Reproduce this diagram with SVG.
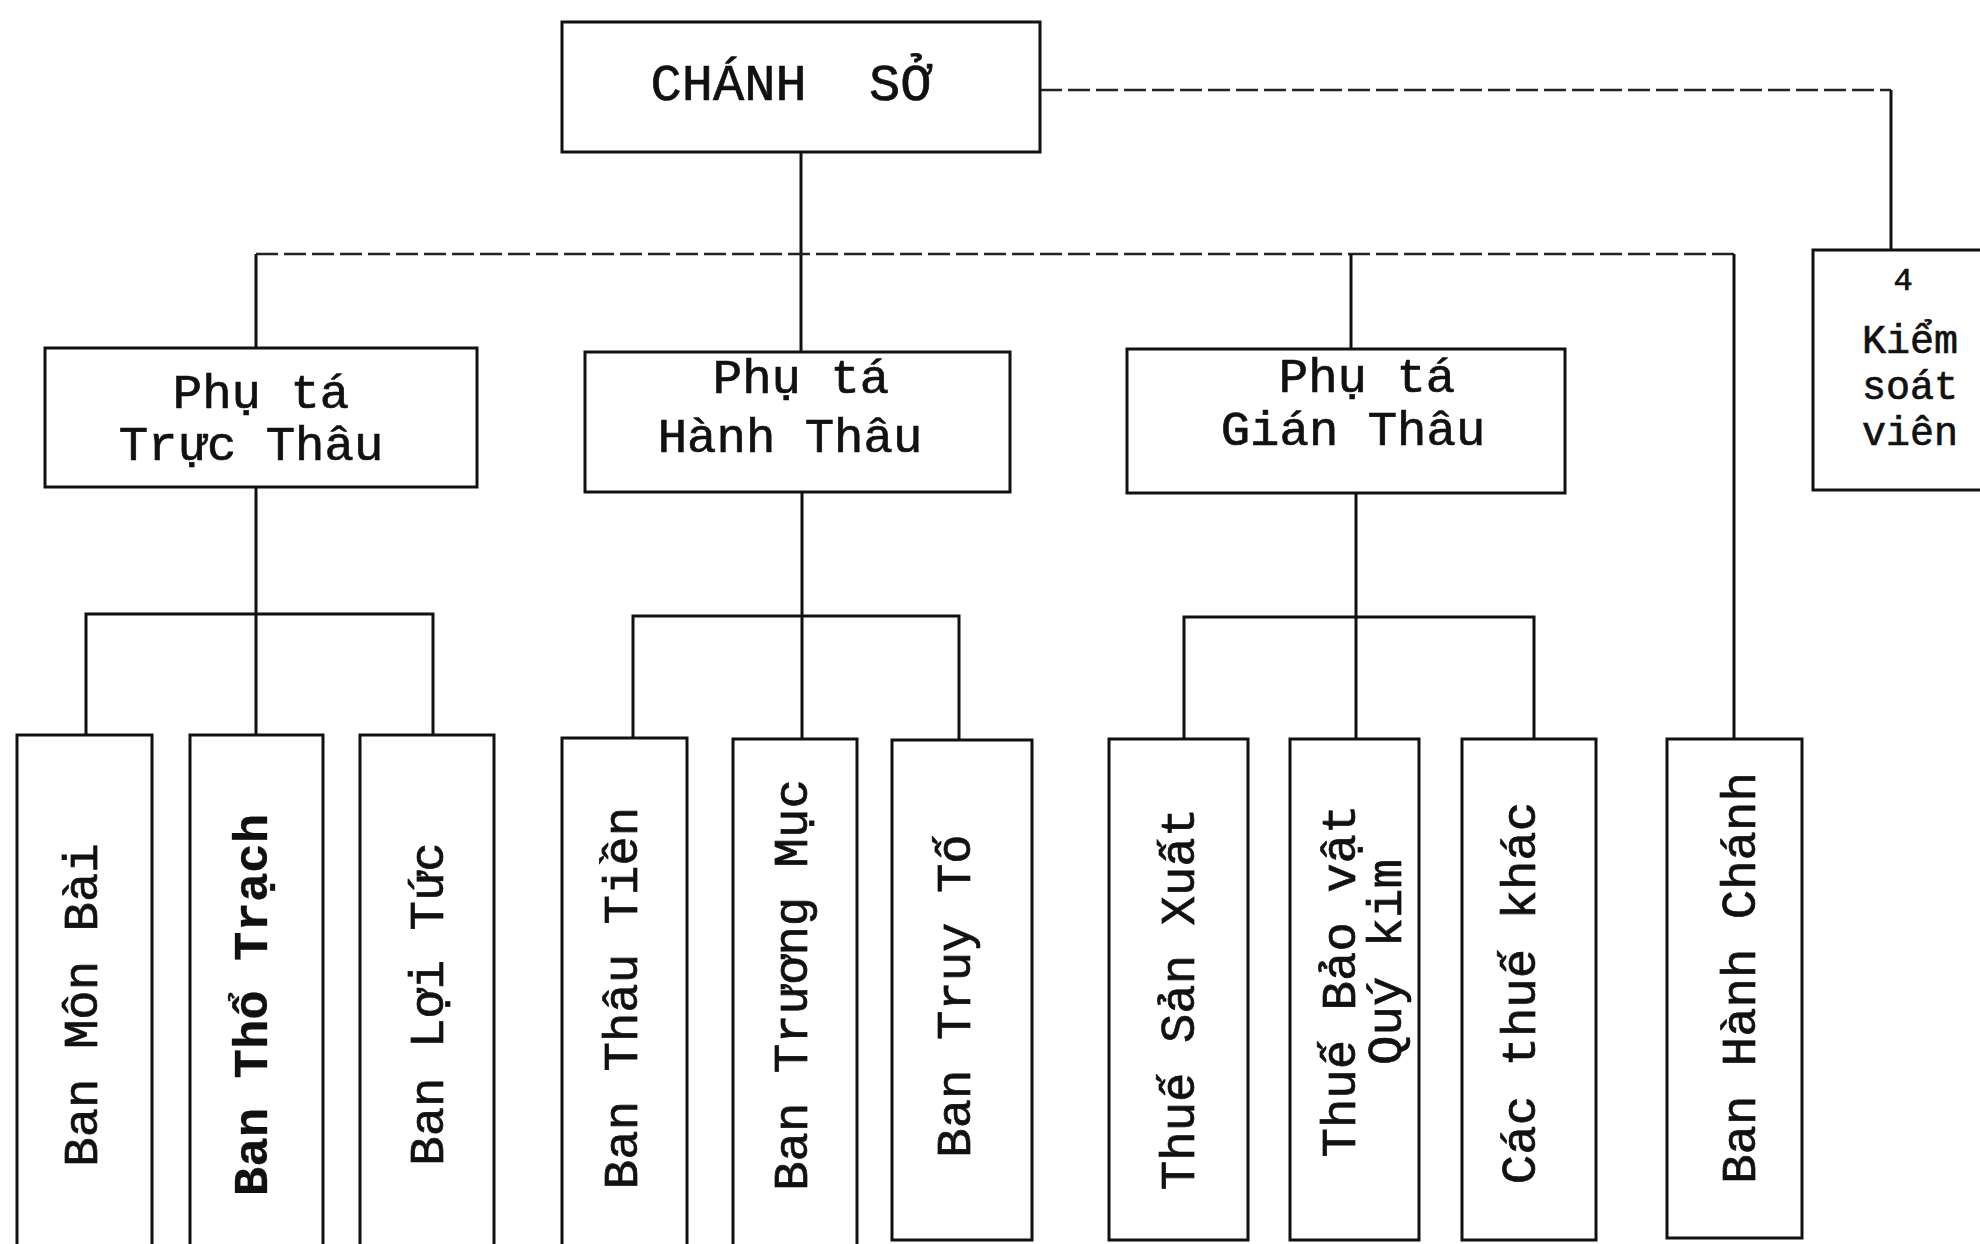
<svg xmlns="http://www.w3.org/2000/svg" width="1980" height="1244" viewBox="0 0 1980 1244">
<style>
.box{fill:#fff;stroke:#111;stroke-width:3}
.ln{stroke:#111;stroke-width:3;fill:none}
.dash{stroke:#222;stroke-width:2.5;fill:none;stroke-dasharray:22 6}
.t{font-family:"Liberation Mono","Courier New","DejaVu Sans Mono",monospace;fill:#111;stroke:#111;stroke-width:0.7px;font-size:49px}
.h{text-anchor:middle}
.v{text-anchor:middle}
.b{font-weight:bold;stroke-width:0.3px}
</style>
<rect x="0" y="0" width="1980" height="1244" fill="#fff"/>
<g id="connectors">
<line class="ln" x1="801" y1="152" x2="801" y2="352"/>
<line class="dash" x1="256" y1="254" x2="1734" y2="254"/>
<line class="ln" x1="256" y1="254" x2="256" y2="348"/>
<line class="ln" x1="1351" y1="254" x2="1351" y2="349"/>
<line class="ln" x1="1734" y1="254" x2="1734" y2="739"/>
<line class="dash" x1="1040" y1="90" x2="1891" y2="90"/>
<line class="ln" x1="1891" y1="90" x2="1891" y2="250"/>
<path class="ln" d="M256,487 V735 M86,735 V614 H433 V735"/>
<path class="ln" d="M802,492 V739 M633,739 V616 H959 V739"/>
<path class="ln" d="M1356,493 V739 M1184,739 V617 H1534 V739"/>
</g>
<g id="chanh-so">
<rect class="box" x="562" y="22" width="478" height="130"/>
<text class="t h" x="791" y="100" style="font-size:52px" xml:space="preserve">CHÁNH  SỞ</text>
</g>
<g id="kiem-soat-vien">
<rect class="box" x="1813" y="250" width="180" height="240"/>
<text class="t h" x="1903" y="290" style="font-size:32px">4</text>
<text class="t h" style="font-size:40px"><tspan x="1910" y="353">Kiểm</tspan><tspan x="1910" y="399">soát</tspan><tspan x="1910" y="445">viên</tspan></text>
</g>
<g id="pt-truc-thau">
<rect class="box" x="45" y="348" width="432" height="139"/>
<text class="t h" x="261" y="408">Phụ tá</text>
<text class="t h" x="251" y="460">Trực Thâu</text>
</g>
<g id="pt-hanh-thau">
<rect class="box" x="585" y="352" width="425" height="140"/>
<text class="t h" x="801" y="393">Phụ tá</text>
<text class="t h" x="790" y="452">Hành Thâu</text>
</g>
<g id="pt-gian-thau">
<rect class="box" x="1127" y="349" width="438" height="144"/>
<text class="t h" x="1367" y="392">Phụ tá</text>
<text class="t h" x="1353" y="445">Gián Thâu</text>
</g>
<g id="ban-mon-bai">
<rect class="box" x="17" y="735" width="135" height="520"/>
<text class="t v" x="97" y="1005" transform="rotate(-90 97 1005)">Ban Môn Bài</text>
</g>
<g id="ban-tho-trach">
<rect class="box" x="190" y="735" width="133" height="520"/>
<text class="t v b" x="267" y="1005" transform="rotate(-90 267 1005)">Ban Thổ Trạch</text>
</g>
<g id="ban-loi-tuc">
<rect class="box" x="360" y="735" width="134" height="520"/>
<text class="t v" x="443" y="1004" transform="rotate(-90 443 1004)">Ban Lợi Tức</text>
</g>
<g id="ban-thau-tien">
<rect class="box" x="562" y="738" width="125" height="520"/>
<text class="t v" x="637" y="998" transform="rotate(-90 637 998)">Ban Thâu Tiền</text>
</g>
<g id="ban-truong-muc">
<rect class="box" x="733" y="739" width="124" height="520"/>
<text class="t v" x="807" y="985" transform="rotate(-90 807 985)">Ban Trương Mục</text>
</g>
<g id="ban-truy-to">
<rect class="box" x="892" y="740" width="140" height="500"/>
<text class="t v" x="970" y="996" transform="rotate(-90 970 996)">Ban Truy Tố</text>
</g>
<g id="thue-san-xuat">
<rect class="box" x="1109" y="739" width="139" height="501"/>
<text class="t v" x="1194" y="999" transform="rotate(-90 1194 999)">Thuế Sản Xuất</text>
</g>
<g id="thue-bao-vat">
<rect class="box" x="1290" y="739" width="129" height="501"/>
<text class="t v" transform="rotate(-90 1355 981)"><tspan x="1355" y="981">Thuế Bảo vật</tspan><tspan x="1374" y="1027">Quý kim</tspan></text>
</g>
<g id="cac-thue-khac">
<rect class="box" x="1462" y="739" width="134" height="501"/>
<text class="t v" x="1535" y="993" transform="rotate(-90 1535 993)">Các thuế khác</text>
</g>
<g id="ban-hanh-chanh">
<rect class="box" x="1667" y="739" width="135" height="499"/>
<text class="t v" x="1755" y="978" transform="rotate(-90 1755 978)">Ban Hành Chánh</text>
</g>
</svg>
